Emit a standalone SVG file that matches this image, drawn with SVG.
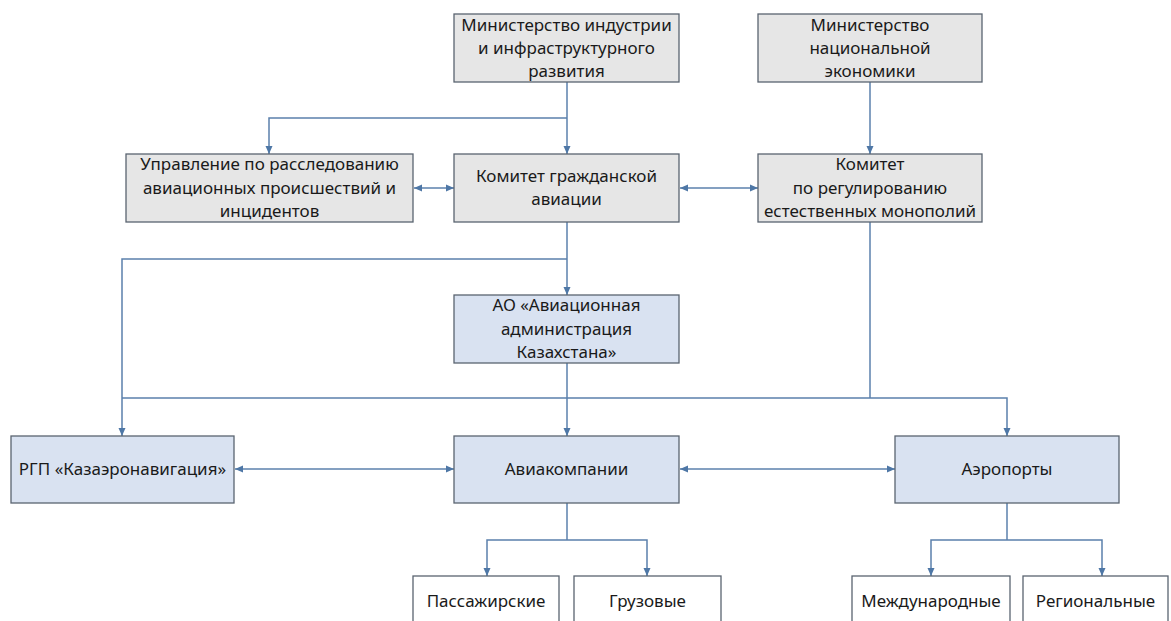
<svg xmlns="http://www.w3.org/2000/svg" width="1171" height="621" viewBox="0 0 1171 621">
<defs>
<marker id="ah" viewBox="0 0 8 8" refX="8" refY="4" markerWidth="8" markerHeight="8" markerUnits="userSpaceOnUse" orient="auto-start-reverse">
<path d="M0,0.5 L8,4 L0,7.5 z" fill="#4E77A6"/>
</marker>
<style>
.gray{fill:#E6E6E6;stroke:#5A6470;stroke-width:1.3}
.blue{fill:#D9E2F1;stroke:#5A6470;stroke-width:1.3}
.white{fill:#FFFFFF;stroke:#5A6470;stroke-width:1.3}
text{font-family:"Noto Sans","Open Sans","Liberation Sans",sans-serif;font-size:17px;fill:#1a1a1a;text-anchor:middle}
.c path{fill:none;stroke:#5B80AC;stroke-width:1.5}
</style>
</defs>
<rect width="1171" height="621" fill="#FFFFFF"/>
<g class="c" id="connectors">
<path d="M567 82 V154" marker-end="url(#ah)"/>
<path d="M567 118 H269 V154" marker-end="url(#ah)"/>
<path d="M870 82 V154" marker-end="url(#ah)"/>
<path d="M414 188 H454" marker-start="url(#ah)" marker-end="url(#ah)"/>
<path d="M680 188 H758" marker-start="url(#ah)" marker-end="url(#ah)"/>
<path d="M567 222 V295" marker-end="url(#ah)"/>
<path d="M567 259 H122 V436" marker-end="url(#ah)"/>
<path d="M567 363 V436" marker-end="url(#ah)"/>
<path d="M870 222 V398"/>
<path d="M122 398 H1007 V436" marker-end="url(#ah)"/>
<path d="M235 469 H454" marker-start="url(#ah)" marker-end="url(#ah)"/>
<path d="M680 469 H895" marker-start="url(#ah)" marker-end="url(#ah)"/>
<path d="M567 503 V540"/>
<path d="M567 540 H487 V576" marker-end="url(#ah)"/>
<path d="M567 540 H647 V576" marker-end="url(#ah)"/>
<path d="M1007 503 V540"/>
<path d="M1007 540 H931 V576" marker-end="url(#ah)"/>
<path d="M1007 540 H1102 V576" marker-end="url(#ah)"/>
</g>
<g id="min-industry">
<rect class="gray" x="454" y="14" width="225" height="68"/>
<text x="566.5" y="31">Министерство индустрии</text>
<text x="566.5" y="54">и инфраструктурного</text>
<text x="566.5" y="77">развития</text>
</g>
<g id="min-economy">
<rect class="gray" x="758" y="14" width="224" height="68"/>
<text x="870" y="31">Министерство</text>
<text x="870" y="54">национальной</text>
<text x="870" y="77">экономики</text>
</g>
<g id="investigation">
<rect class="gray" x="126" y="154" width="287" height="68"/>
<text x="269.5" y="170">Управление по расследованию</text>
<text x="269.5" y="194">авиационных происшествий и</text>
<text x="269.5" y="217">инцидентов</text>
</g>
<g id="civil-aviation">
<rect class="gray" x="454" y="154" width="225" height="68"/>
<text x="566.5" y="182">Комитет гражданской</text>
<text x="566.5" y="205">авиации</text>
</g>
<g id="monopolies">
<rect class="gray" x="758" y="154" width="224" height="68"/>
<text x="870" y="170">Комитет</text>
<text x="870" y="194">по регулированию</text>
<text x="870" y="217">естественных монополий</text>
</g>
<g id="aviation-admin">
<rect class="blue" x="454" y="295" width="225" height="68"/>
<text x="566.5" y="311">АО «Авиационная</text>
<text x="566.5" y="335">администрация</text>
<text x="566.5" y="358">Казахстана»</text>
</g>
<g id="kazaeronavigation">
<rect class="blue" x="11" y="436" width="223" height="67"/>
<text x="122.5" y="475">РГП «Казаэронавигация»</text>
</g>
<g id="airlines">
<rect class="blue" x="454" y="436" width="225" height="67"/>
<text x="566.5" y="475">Авиакомпании</text>
</g>
<g id="airports">
<rect class="blue" x="895" y="436" width="224" height="67"/>
<text x="1007" y="475">Аэропорты</text>
</g>
<g id="passenger">
<rect class="white" x="413" y="576" width="146" height="60"/>
<text x="486" y="607">Пассажирские</text>
</g>
<g id="cargo">
<rect class="white" x="574" y="576" width="147" height="60"/>
<text x="647.5" y="607">Грузовые</text>
</g>
<g id="international">
<rect class="white" x="852" y="576" width="158" height="60"/>
<text x="931" y="607">Международные</text>
</g>
<g id="regional">
<rect class="white" x="1023" y="576" width="145" height="60"/>
<text x="1095.5" y="607">Региональные</text>
</g>
</svg>
